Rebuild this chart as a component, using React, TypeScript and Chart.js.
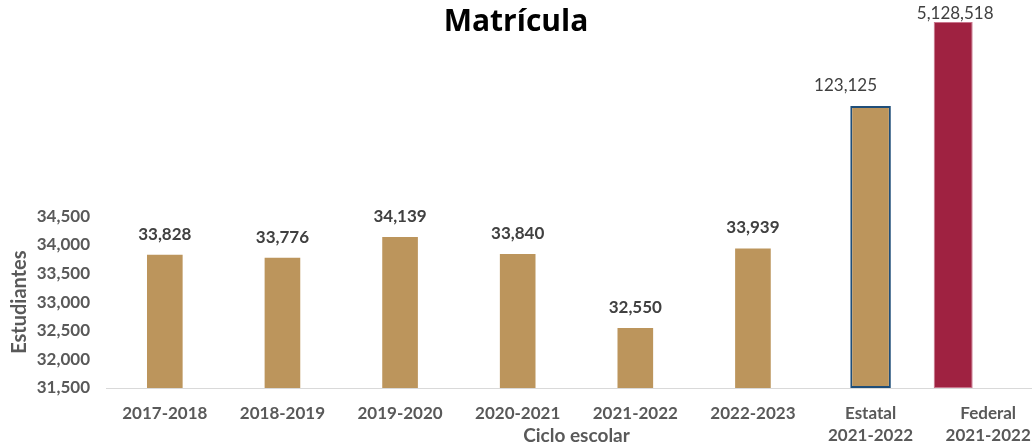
import React, { useEffect, useRef } from 'react';
import { Chart, registerables } from 'chart.js';

Chart.register(...registerables);

// ---- data ----
const CATEGORIES: (string | string[])[] = [
  '2017-2018',
  '2018-2019',
  '2019-2020',
  '2020-2021',
  '2021-2022',
  '2022-2023',
  ['Estatal', '2021-2022'],
  ['Federal', '2021-2022'],
];
const MATRICULA = [33828, 33776, 34139, 33840, 32550, 33939, null, null];
const ESTATAL = [null, null, null, null, null, null, 123125, null];
const FEDERAL = [null, null, null, null, null, null, null, 5128518];

const Y_MIN = 31500;
const Y_MAX = 38000;
const Y_LAST_TICK = 34500;
const Y_STEP = 500;

const TITLE = 'Matrícula';
const Y_TITLE = 'Estudiantes';
const X_TITLE = 'Ciclo escolar';

// ---- styles ----
const VIEW_W = 1032;
const VIEW_H = 446;
const CANVAS_W = 1047;
const GOLD = '#BC955C';
const GUINDA = '#9F2241';
const NAVY = '#1F4E79';
const TICK_COLOR = '#595959';
const LABEL_COLOR = '#404040';
const FONT = 'Lato';

const fmt = (v: number) => v.toLocaleString('en-US');

const textPlugin = {
  id: 'customText',
  afterDatasetsDraw(chart: any, _args: any, opts: any) {
    const ctx = chart.ctx as CanvasRenderingContext2D;
    chart.data.datasets.forEach((ds: any, di: number) => {
      const meta = chart.getDatasetMeta(di);
      const st = opts.styles[di];
      meta.data.forEach((el: any, i: number) => {
        const v = ds.data[i];
        if (v === null || v === undefined) return;
        ctx.save();
        ctx.font = st.font;
        ctx.fillStyle = LABEL_COLOR;
        ctx.textAlign = 'center';
        ctx.textBaseline = 'alphabetic';
        ctx.fillText(fmt(v), el.x + st.dx, Math.max(el.y - 15, 19));
        ctx.restore();
      });
    });
  },
  afterDraw(chart: any) {
    const ctx = chart.ctx as CanvasRenderingContext2D;
    // main title
    ctx.save();
    ctx.font = 'bold 30px "Open Sans"';
    ctx.fillStyle = '#000000';
    ctx.textAlign = 'center';
    ctx.textBaseline = 'alphabetic';
    ctx.fillText(TITLE, VIEW_W / 2, 31);
    ctx.restore();
    // y axis title, centred on the visible tick range
    const y = chart.scales.y;
    const cy = (y.getPixelForValue(Y_MIN) + y.getPixelForValue(Y_LAST_TICK)) / 2;
    ctx.save();
    ctx.translate(26, cy);
    ctx.rotate(-Math.PI / 2);
    ctx.font = `bold 20px ${FONT}`;
    ctx.fillStyle = TICK_COLOR;
    ctx.textAlign = 'center';
    ctx.textBaseline = 'alphabetic';
    ctx.fillText(Y_TITLE, 0, 0);
    ctx.restore();
  },
};

export default function App() {
  const ref = useRef<HTMLCanvasElement | null>(null);

  useEffect(() => {
    if (!ref.current) return;
    const chart = new Chart(ref.current, {
      type: 'bar',
      data: {
        labels: CATEGORIES as any,
        datasets: [
          {
            label: 'Matrícula',
            data: MATRICULA as any,
            yAxisID: 'y',
            backgroundColor: GOLD,
            base: Y_MIN,
            categoryPercentage: 1,
            barPercentage: 0.303,
            skipNull: true,
          } as any,
          {
            label: 'Estatal',
            data: ESTATAL as any,
            yAxisID: 'y2',
            backgroundColor: GOLD,
            borderColor: NAVY,
            borderWidth: 2,
            borderSkipped: false,
            grouped: false,
            categoryPercentage: 1,
            barPercentage: 0.345,
          } as any,
          {
            label: 'Federal',
            data: FEDERAL as any,
            yAxisID: 'y2',
            backgroundColor: GUINDA,
            borderColor: '#C9758C',
            borderWidth: 1,
            borderSkipped: false,
            order: -1,
            skipNull: false,
            categoryPercentage: 1.19,
            barPercentage: 0.557,
          } as any,
        ],
      },
      options: {
        responsive: false,
        animation: false,
        layout: { padding: { top: 16, left: 0, right: 0, bottom: 0 } },
        plugins: {
          legend: { display: false },
          tooltip: { enabled: false },
          title: { display: false },
          customText: {
            styles: [
              { font: `bold 17px ${FONT}`, dx: 0 },
              { font: `17px ${FONT}`, dx: -25 },
              { font: `17px ${FONT}`, dx: 2 },
            ],
          },
        } as any,
        scales: {
          x: {
            grid: { display: false, drawTicks: false },
            border: { display: true, color: '#D9D9D9', width: 1 },
            ticks: {
              color: TICK_COLOR,
              font: { family: FONT, size: 17, weight: 'bold', lineHeight: 1.3 },
              padding: 14,
              maxRotation: 0,
              autoSkip: false,
            },
            title: {
              display: true,
              text: X_TITLE,
              color: TICK_COLOR,
              font: { family: FONT, size: 19, weight: 'bold', lineHeight: 1.1 },
              padding: 0,
            },
            afterFit: (s: any) => {
              s.height = 58;
              s.paddingLeft = 0;
              s.paddingRight = 0;
            },
          },
          y: {
            type: 'linear',
            min: Y_MIN,
            max: Y_MAX,
            grid: { display: false, drawTicks: false },
            border: { display: false },
            ticks: {
              stepSize: Y_STEP,
              color: TICK_COLOR,
              font: { family: FONT, size: 17, weight: 'bold' },
              padding: 16,
              callback: (v: any) => (Number(v) > Y_LAST_TICK ? null : fmt(Number(v))),
            },
            afterFit: (s: any) => {
              s.width = 106;
              s.paddingTop = 0;
              s.paddingBottom = 0;
            },
          },
          y2: {
            type: 'logarithmic',
            display: false,
            min: 0.449,
            max: 6.69e6,
            bounds: 'data',
          },
        } as any,
      },
      plugins: [textPlugin as any],
    });
    return () => chart.destroy();
  }, []);

  return (
    <div style={{ width: VIEW_W, height: VIEW_H, overflow: 'hidden', background: '#ffffff' }}>
      <style>{'html,body{margin:0;padding:0;overflow:hidden;background:#fff;}'}</style>
      <canvas ref={ref} width={CANVAS_W} height={VIEW_H} style={{ display: 'block' }} />
    </div>
  );
}
